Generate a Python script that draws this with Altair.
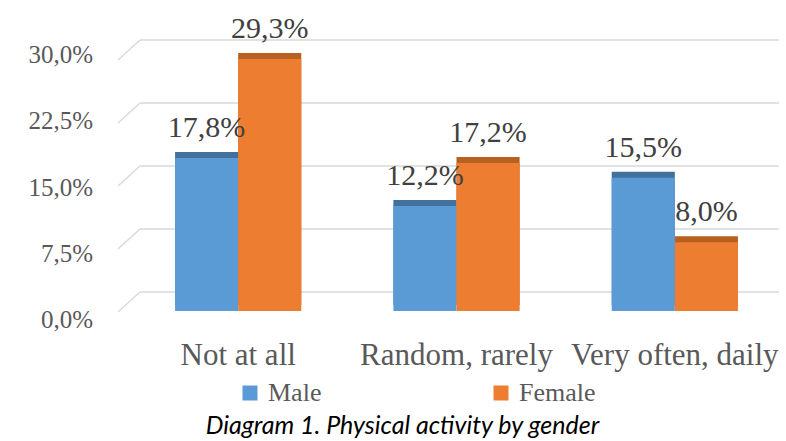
import altair as alt
import pandas as pd

# Share of respondents by physical-activity level and gender (%)
CATEGORIES = ["Not at all", "Random, rarely", "Very often, daily"]
GENDERS = ["Male", "Female"]
MALE = [17.8, 12.2, 15.5]
FEMALE = [29.3, 17.2, 8.0]
TICKS = [0.0, 7.5, 15.0, 22.5, 30.0]
TICK_LABELS = ["0,0%", "7,5%", "15,0%", "22,5%", "30,0%"]
CAPTION = "Diagram 1. Physical activity by gender"

FRONT_COLORS = ["#5b9bd5", "#ed7d31"]
TOP_COLORS = ["#41719c", "#b8601f"]
GRID_COLOR = "#d9d9d9"
TEXT_GREY = "#595959"
SERIF = "Liberation Serif"

rows = []
for cat, m, f in zip(CATEGORIES, MALE, FEMALE):
    rows.append({"activity": cat, "gender": "Male", "share": m})
    rows.append({"activity": cat, "gender": "Female", "share": f})
bars_df = pd.DataFrame(rows)
ticks_df = pd.DataFrame({"tick": TICKS, "label": TICK_LABELS})

W, H = 655, 258

x_enc = alt.X(
    "activity:N",
    sort=CATEGORIES,
    scale=alt.Scale(paddingInner=0, paddingOuter=0),
    axis=alt.Axis(
        title=None, domain=False, ticks=False, labelAngle=0, labelLimit=0,
        labelFont=SERIF, labelFontSize=31, labelColor=TEXT_GREY,
        labelPadding=29,
    ),
)
xoff_enc = alt.XOffset(
    "gender:N", sort=GENDERS,
    scale=alt.Scale(paddingOuter=0.73, paddingInner=0),
)
y_bar = alt.Y("share:Q", scale=alt.Scale(domain=[0, 30], nice=False, zero=False), axis=None)

base = alt.Chart(bars_df)

# darker strip above each bar gives the 3-D top face
tops = base.mark_bar(yOffset=-6, y2Offset=-6).encode(
    x=x_enc, xOffset=xoff_enc, y=y_bar,
    color=alt.condition(
        alt.datum.gender == "Male",
        alt.value(TOP_COLORS[0]),
        alt.value(TOP_COLORS[1]),
    ),
)

front = base.mark_bar().encode(
    x=x_enc, xOffset=xoff_enc, y=y_bar,
    color=alt.Color(
        "gender:N", sort=GENDERS,
        scale=alt.Scale(domain=GENDERS, range=FRONT_COLORS),
        legend=alt.Legend(
            orient="none", legendX=108, legendY=327, direction="horizontal",
            title=None, symbolType="square", symbolSize=225, symbolStrokeWidth=0,
            labelFont=SERIF, labelFontSize=26, labelColor=TEXT_GREY,
            columnPadding=166, labelOffset=5, padding=0,
        ),
    ),
)

values = base.transform_calculate(
    txt="replace(format(datum.share, '.1f'), '.', ',') + '%'"
).mark_text(
    dy=-30, fontSize=30, font=SERIF, color="#404040", baseline="middle"
).encode(x=x_enc, xOffset=xoff_enc, y=y_bar, text="txt:N")

# receding gridlines on the back wall
grid_y = alt.Y("tick:Q", scale=alt.Scale(domain=[-2.262, 28.452], nice=False, zero=False), axis=None)
grid = alt.Chart(ticks_df).mark_rule(color=GRID_COLOR, strokeWidth=1.5).encode(
    x=alt.value(11), x2=alt.value(650), y=grid_y
)
slants = alt.Chart(ticks_df).mark_rule(color=GRID_COLOR, strokeWidth=1.5, y2Offset=20).encode(
    x=alt.value(11), x2=alt.value(-11), y=grid_y, y2=alt.Y2("tick:Q")
)

label_y = alt.Y("tick:Q", scale=alt.Scale(domain=[1.019, 30.227], nice=False, zero=False), axis=None)
tick_text = alt.Chart(ticks_df).mark_text(
    align="right", baseline="middle", font=SERIF, fontSize=25, color=TEXT_GREY
).encode(x=alt.value(-36), y=label_y, text="label:N")

caption = alt.Chart(alt.Data(values=[{"text": CAPTION}])).mark_text(
    font="Lato", fontStyle="italic", fontSize=25, color="black",
    align="center", baseline="alphabetic",
).encode(x=alt.value(273.5), y=alt.value(381), text="text:N")

chart = (
    alt.layer(grid, slants, tick_text, tops, front, values, caption)
    .resolve_scale(y="independent")
    .properties(
        width=W, height=H,
        padding={"left": 129, "top": 53, "right": 2, "bottom": 130},
        autosize=alt.AutoSizeParams(type="none"),
        background="white",
    )
    .configure_view(stroke=None)
)

chart.save("out.html", embed_options={"renderer": "svg", "actions": False})
